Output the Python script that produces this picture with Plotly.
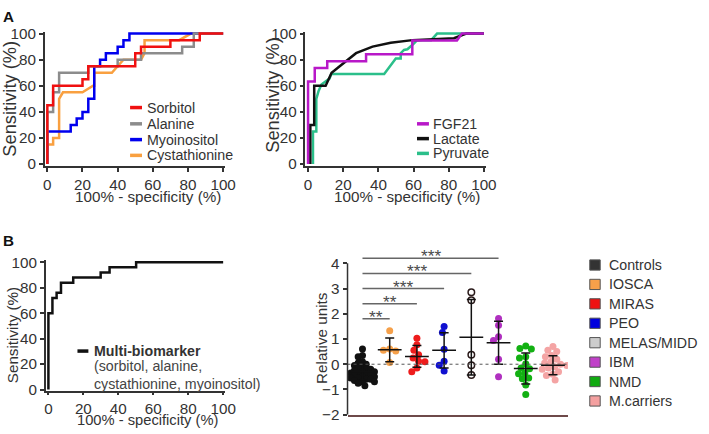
import math
import plotly.graph_objects as go

W, H = 709, 434
# the photographed page comes out slightly shrunk (paper edge lands at ~701 x 425 px),
# so reference pixel positions are converted with the effective size
EW, EH = 701.0, 425.0
FS = 1.015
FONT = "Arial, 'Liberation Sans', sans-serif"
TXT = "#333333"

# ---- Panel A left: ROC vertices (100% - specificity, sensitivity) ----
sorb_x = [0, 0, 3.3, 3.3, 20, 20, 23.3, 23.3, 50, 50, 53.3, 53.3, 70, 70, 86.7, 86.7, 100]
sorb_y = [0, 45, 45, 60, 60, 65, 65, 75, 75, 85, 85, 90, 90, 95, 95, 100, 100]
ala_x = [0, 0, 3.3, 3.3, 6.7, 6.7, 23.3, 23.3, 40, 40, 53.3, 53.3, 76.7, 76.7, 83.3, 83.3, 100]
ala_y = [0, 40, 40, 55, 55, 70, 70, 75, 75, 80, 80, 85, 85, 90, 90, 100, 100]
myo_x = [0, 0, 13.3, 13.3, 16.7, 16.7, 20, 20, 23.3, 23.3, 26.7, 26.7, 30, 30, 33.3, 33.3,
         40, 40, 43.3, 43.3, 46.7, 46.7, 100]
myo_y = [0, 25, 25, 30, 30, 35, 35, 40, 40, 50, 50, 75, 75, 80, 80, 85,
         85, 90, 90, 95, 95, 100, 100]
cys_x = [0, 0, 3.3, 3.3, 6.7, 6.7, 8.9, 20, 26, 26.7, 26.7, 36.7, 40, 43.3, 53.3, 55.3, 55.3, 75, 81.7, 100]
cys_y = [0, 15, 15, 20, 20, 50, 55, 55, 60, 60, 70, 70, 75, 80, 80, 85, 95, 95, 100, 100]

# ---- Panel A right ----
fgf_x = [0, 0, 3.8, 3.8, 10.9, 10.9, 33, 33, 59.3, 59.3, 84.7, 87.5, 100]
fgf_y = [0, 63.2, 63.2, 73.7, 73.7, 78.9, 78.9, 84.2, 84.2, 94.7, 94.7, 100, 100]
lac_x = [1.3, 1.3, 3.5, 3.5, 10, 13.4, 18, 23.3, 27.3, 36.7, 47, 59.3, 83, 90, 100]
lac_y = [0, 30, 30, 60, 60, 70, 75, 80.4, 85, 90, 93, 95, 96.5, 100, 100]
pyr_x = [2.8, 2.8, 4.7, 4.7, 6, 7.6, 12.2, 13.2, 43.3, 49.9, 52.7, 52.7, 54.6, 56.5, 60.3, 62, 70, 73.4, 100]
pyr_y = [0, 25, 25, 50, 56, 61, 65.5, 69, 69, 81, 81, 85, 87.5, 88, 92.5, 95, 95, 100, 100]

# ---- Panel B left ----
multi_x = [0, 0, 2.3, 2.3, 4.7, 4.7, 7.2, 7.2, 14.2, 14.2, 29.9, 29.9, 35, 35, 50.2, 50.2, 100]
multi_y = [0, 60, 60, 72, 72, 76, 76, 84, 84, 88, 88, 92, 92, 96, 96, 100, 100]

# ---- Panel B right: relative units per group ----
groups = ["Controls", "IOSCA", "MIRAS", "PEO", "MELAS/MIDD", "IBM", "NMD", "M.carriers"]
controls = [0.6, 0.35, 0.3, 0.1, 0.05, 0.0, -0.05, -0.1, -0.15, -0.2, -0.2, -0.25, -0.3, -0.3, -0.35,
            -0.35, -0.4, -0.4, -0.45, -0.5, -0.5, -0.55, -0.55, -0.6, -0.6, -0.65, -0.7, -0.7, -0.75, -0.85]
iosca = [1.33, 0.6, 0.55, 0.52, 0.07]
miras = [1.03, 0.77, 0.55, 0.38, 0.25, 0.12, 0.1, -0.15, -0.3]
peo = [1.5, 1.26, 0.59, 0.12, -0.04, -0.27]
melas = [2.85, 2.54, 0.38, -0.04, -0.43]
ibm = [1.81, 1.55, 1.09, 0.94, 0.2, -0.5]
nmd = [0.72, 0.62, 0.6, 0.3, 0.25, 0.02, -0.15, -0.18, -0.35, -0.38, -0.55, -0.58, -0.82, -1.2]
mcar = [0.7, 0.55, 0.5, 0.35, 0.3, 0.2, 0.1, 0.05, 0.0, -0.05, -0.1, -0.15, -0.2, -0.3, -0.4, -0.45, -0.63]
group_vals = [controls, iosca, miras, peo, melas, ibm, nmd, mcar]
means = [-0.3, 0.57, 0.31, 0.55, 1.07, 0.85, -0.17, -0.04]
sds = [0.33, 0.47, 0.43, 0.7, 1.5, 0.85, 0.61, 0.38]
dot_colors = ["#111111", "#f5a04a", "#ee1c1c", "#1010d0", "#ffffff", "#b030c0", "#12b012", "#f4a4a4"]
legend_colors = ["#333333", "#f7a04a", "#ee1111", "#0000dd", "#cccccc", "#c040c8", "#11aa11", "#f4a0a0"]
sig_to = [1, 2, 3, 4, 5]
sig_y = [1.8, 2.4, 3.0, 3.6, 4.2]
sig_lbl = ["**", "**", "***", "***", "***"]


def px(x):
    return x / EW


def py(y):
    return 1 - y / EH


def fs(s):
    return s * FS


def swarm(vals, d, sx, sy):
    # simple beeswarm: offsets in axis units
    placed, offs = [], []
    for v in vals:
        y = v * sy
        cands = [0.0]
        for (cx, cy) in placed:
            dy = abs(y - cy)
            if dy < d:
                dx = math.sqrt(d * d - dy * dy)
                cands += [cx - dx, cx + dx]
        cands.sort(key=abs)
        for c in cands:
            if all((c - cx) ** 2 + (y - cy) ** 2 >= d * d - 1e-6 for cx, cy in placed):
                break
        placed.append((c, y))
        offs.append(c / sx)
    return offs


fig = go.Figure()

roc_a = [(cys_x, cys_y, "#f9a040"), (myo_x, myo_y, "#0000ee"), (ala_x, ala_y, "#8c8c8c"), (sorb_x, sorb_y, "#f01010")]
for xs, ys, c in roc_a:
    fig.add_trace(go.Scatter(x=xs, y=ys, mode="lines", line=dict(color=c, width=2.5), xaxis="x", yaxis="y"))

roc_b = [(pyr_x, pyr_y, "#2bbf8a"), (lac_x, lac_y, "#111111"), (fgf_x, fgf_y, "#b818c8")]
for xs, ys, c in roc_b:
    fig.add_trace(go.Scatter(x=xs, y=ys, mode="lines", line=dict(color=c, width=2.5), xaxis="x2", yaxis="y2"))

fig.add_trace(go.Scatter(x=multi_x, y=multi_y, mode="lines", line=dict(color="#111111", width=2.5),
                         xaxis="x3", yaxis="y3"))

# B right scatter
SX, SY = 27.7, 26.1
for i, vals in enumerate(group_vals):
    d = 4.6 if i == 0 else 6.5
    offs = swarm(vals, d, SX, SY)
    if groups[i] == "MELAS/MIDD":
        mk = dict(size=6.5, color="white", line=dict(color="#2a1a1a", width=1.5))
    else:
        mk = dict(size=7, color=dot_colors[i], line=dict(width=0))
    fig.add_trace(go.Scatter(x=[i + o for o in offs], y=vals, mode="markers", marker=mk,
                             xaxis="x4", yaxis="y4"))

fig.add_trace(go.Scatter(
    x=list(range(len(groups))), y=means, mode="markers",
    marker=dict(symbol="line-ew", size=17, line=dict(color="#111111", width=1.5)),
    error_y=dict(type="data", array=sds, visible=True, color="#111111", thickness=1.5, width=4.5),
    xaxis="x4", yaxis="y4"))

for t, yv in zip(sig_to, sig_y):
    fig.add_trace(go.Scatter(x=[0, t], y=[yv, yv], mode="lines", line=dict(color="#666666", width=1.5),
                             xaxis="x4", yaxis="y4"))

shapes = []
annotations = []

for t, yv, lbl in zip(sig_to, sig_y, sig_lbl):
    annotations.append(dict(x=t / 2, y=yv, xref="x4", yref="y4", text=lbl, showarrow=False,
                            yanchor="middle", yshift=2, font=dict(size=fs(17), color="#4a4a4a", family=FONT)))

# zero dotted line and left axis line of B right
shapes.append(dict(type="line", xref="x4 domain", yref="y4", x0=0, x1=1, y0=0, y1=0,
                   line=dict(color="#555555", width=1, dash="dot")))
shapes.append(dict(type="line", xref="x4 domain", yref="y4", x0=0, x1=0, y0=-2, y1=4,
                   line=dict(color="#333333", width=1.5)))


# legends for ROC panels
def line_legend(items, x0, x1, tx, ys):
    for (name, col), yy in zip(items, ys):
        shapes.append(dict(type="line", xref="paper", yref="paper", x0=px(x0), x1=px(x1), y0=py(yy), y1=py(yy),
                           line=dict(color=col, width=3.5)))
        annotations.append(dict(x=px(tx), y=py(yy), xref="paper", yref="paper", text=name, showarrow=False,
                                xanchor="left", yanchor="middle", font=dict(size=fs(14), color=TXT, family=FONT)))


line_legend([("Sorbitol", "#f01010"), ("Alanine", "#8c8c8c"), ("Myoinositol", "#0000ee"),
             ("Cystathionine", "#f9a040")], 129, 141, 144, [102, 118.5, 134.5, 150.5])
line_legend([("FGF21", "#b818c8"), ("Lactate", "#111111"), ("Pyruvate", "#2bbf8a")],
            418, 430, 432, [118.5, 133.5, 148.5])
line_legend([("<b>Multi-biomarker</b>", "#111111")], 76, 87, 91, [349])
annotations.append(dict(x=px(91), y=py(373), xref="paper", yref="paper",
                        text="(sorbitol, alanine,<br>cystathionine, myoinositol)", showarrow=False, align="left",
                        xanchor="left", yanchor="middle", font=dict(size=fs(14), color="#444444", family=FONT)))

# group legend (B right)
for i, (g, c) in enumerate(zip(groups, legend_colors)):
    yy = 261.7 + i * 19.7
    shapes.append(dict(type="rect", xref="paper", yref="paper", x0=px(592), x1=px(602.5),
                       y0=py(yy - 5.2), y1=py(yy + 5.2), fillcolor=c, line=dict(color="#555555", width=1)))
    annotations.append(dict(x=px(609), y=py(yy), xref="paper", yref="paper", text=g, showarrow=False,
                            xanchor="left", yanchor="middle", font=dict(size=fs(14), color=TXT, family=FONT)))


# axis titles and panel letters
def title(text, x, y, size=15, angle=0, bold=False, color=TXT):
    annotations.append(dict(x=px(x), y=py(y), xref="paper", yref="paper",
                            text="<b>%s</b>" % text if bold else text, showarrow=False,
                            textangle=angle, xanchor="center", yanchor="middle",
                            font=dict(size=fs(size), color=color, family=FONT)))


title("100% - specificity (%)", 147, 192)
title("100% - specificity (%)", 408, 192)
title("100% - specificity (%)", 147, 418.5, size=14.5)
title("Sensitivity (%)", 8, 93, size=18, angle=-90)
title("Sensitivity (%)", 273, 89, size=18, angle=-90)
title("Sensitivity (%)", 10, 333, size=15, angle=-90)
title("Relative units", 322, 336, size=15, angle=-90)
title("A", 7, 10, bold=True, color="#111111")
title("B", 7, 237, bold=True, color="#111111")

roc_axis = dict(range=[-1.5, 101], tickvals=[0, 20, 40, 60, 80, 100], showline=True, linecolor="#333333",
                linewidth=1.5, ticks="outside", ticklen=4, tickwidth=1.5, tickcolor="#333333",
                showgrid=False, zeroline=False, tickfont=dict(size=fs(15), color=TXT, family=FONT))
roc_yaxis = dict(roc_axis, range=[-1.5, 101.5])
ya_dom = [py(161.3), py(25.0)]
yb_dom = [py(390), py(257)]

fig.update_layout(
    width=W, height=H, margin=dict(l=0, r=0, t=0, b=0),
    paper_bgcolor="white", plot_bgcolor="white", showlegend=False,
    font=dict(family=FONT, color=TXT),
    xaxis=dict(roc_axis, domain=[px(43.0), px(224.5)], anchor="y"),
    yaxis=dict(roc_yaxis, domain=ya_dom, anchor="x"),
    xaxis2=dict(roc_axis, domain=[px(305.6), px(487.1)], anchor="y2"),
    yaxis2=dict(roc_yaxis, domain=ya_dom, anchor="x2"),
    xaxis3=dict(roc_axis, domain=[px(44.1), px(224.5)], anchor="y3", ticklen=2),
    yaxis3=dict(roc_yaxis, domain=yb_dom, anchor="x3"),
    xaxis4=dict(domain=[px(348), px(570)], range=[-0.55, 7.55], anchor="y4", showline=True,
                linecolor="#6e4a4a", linewidth=1.5, showticklabels=False, ticks="", showgrid=False,
                zeroline=False),
    yaxis4=dict(domain=[py(413.5), py(248.5)], range=[-2, 4.45], anchor="x4", showline=False,
                tickvals=[-2, -1, 0, 1, 2, 3, 4], ticks="outside", ticklen=4, tickwidth=1.5,
                tickcolor="#333333", showgrid=False, zeroline=False,
                tickfont=dict(size=fs(15), color=TXT, family=FONT)),
    shapes=shapes, annotations=annotations,
)

# no page margin / scrollbars around the figure
page_js = ("document.documentElement.style.overflow='hidden';"
           "document.body.style.overflow='hidden';"
           "document.body.style.margin='0';")
fig.write_html("out.html", config={"displayModeBar": False}, post_script=page_js)
